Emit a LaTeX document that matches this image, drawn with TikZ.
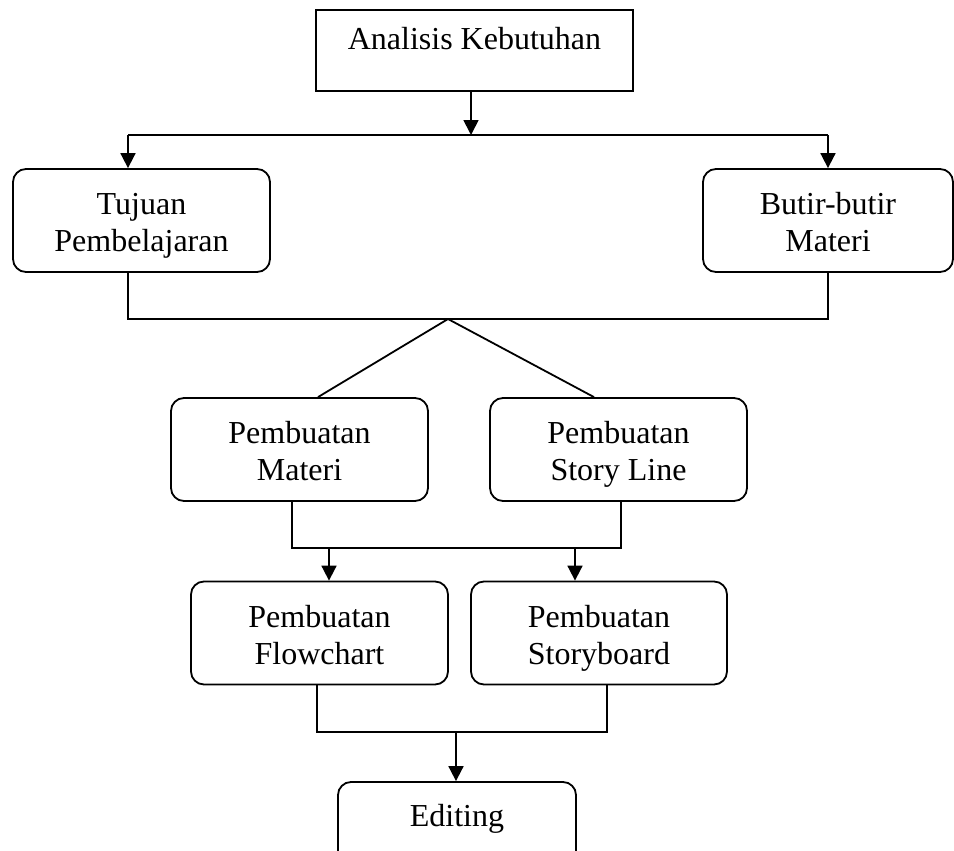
\documentclass[tikz,border=0pt]{standalone}
\usepackage{fontspec}
\setmainfont{Liberation Serif}
\usetikzlibrary{arrows.meta}

% invisible struts: fixed height on the first line, fixed depth on the last,
% so every two-line label sits at the same height in its box
\newcommand{\topline}[1]{\rule{0pt}{33pt}#1}
\newcommand{\botline}[1]{\rule[-8pt]{0pt}{8pt}#1}

\begin{document}
\begin{tikzpicture}[x=1pt, y=-1pt,
  base/.style={draw, line width=1.8pt, inner sep=0pt, align=center,
    font=\fontsize{32}{37}\selectfont},
  sharpbox/.style={base, minimum width=#1, minimum height=81pt},
  roundbox/.style={base, rounded corners=13pt, minimum width=#1, minimum height=103pt},
  link/.style={line width=1.8pt},
  arr/.style={line width=1.8pt, -{Triangle[width=15pt,length=15pt]}}
]
\useasboundingbox (0,0) rectangle (954,851);

% boxes
\node[sharpbox=317pt, text height=21pt, text depth=22pt] (ana) at (474.5,50.5) {Analisis Kebutuhan};
\node[roundbox=257pt] (tuj) at (141.5,220.5) {\topline{Tujuan}\\\botline{Pembelajaran}};
\node[roundbox=250pt] (but) at (828,220.5) {\topline{Butir-butir}\\\botline{Materi}};
\node[roundbox=257pt] (mat) at (299.5,449.5) {\topline{Pembuatan}\\\botline{Materi}};
\node[roundbox=257pt] (sto) at (618.5,449.5) {\topline{Pembuatan}\\\botline{Story Line}};
\node[roundbox=257pt] (flo) at (319.5,633) {\topline{Pembuatan}\\\botline{Flowchart}};
\node[roundbox=256pt] (sbd) at (599,633) {\topline{Pembuatan}\\\botline{Storyboard}};
\node[roundbox=238pt, minimum height=102pt, text height=21pt, text depth=35pt] (edi) at (457,833) {Editing};

% junction points
\coordinate (j0) at (471,135);
\coordinate (jl) at (128,135);
\coordinate (jr) at (828,135);
\coordinate (k0) at (128,319);
\coordinate (apex) at (448,319);
\coordinate (k1) at (828,319);
\coordinate (m0) at (292,548);
\coordinate (m1) at (621,548);
\coordinate (ma) at (329,548);
\coordinate (mb) at (575,548);
\coordinate (n0) at (317,732);
\coordinate (n1) at (607,732);
\coordinate (na) at (456,732);
\coordinate (dl) at (318,0);
\coordinate (dr) at (594,0);

% Analisis Kebutuhan -> Tujuan / Butir
\draw[arr] (j0 |- ana.south) -- (j0);
\draw[link] (jl) -- (jr);
\draw[arr] (jl) -- (jl |- tuj.north);
\draw[arr] (jr) -- (jr |- but.north);

% Tujuan + Butir -> Materi / Story Line
\draw[link] (k0 |- tuj.south) -- (k0) -- (k1) -- (k1 |- but.south);
\draw[link] (apex) -- (dl |- mat.north);
\draw[link] (apex) -- (dr |- sto.north);

% Materi + Story Line -> Flowchart / Storyboard
\draw[link] (m0 |- mat.south) -- (m0) -- (m1) -- (m1 |- sto.south);
\draw[arr] (ma) -- (ma |- flo.north);
\draw[arr] (mb) -- (mb |- sbd.north);

% Flowchart + Storyboard -> Editing
\draw[link] (n0 |- flo.south) -- (n0) -- (n1) -- (n1 |- sbd.south);
\draw[arr] (na) -- (na |- edi.north);
\end{tikzpicture}
\end{document}
